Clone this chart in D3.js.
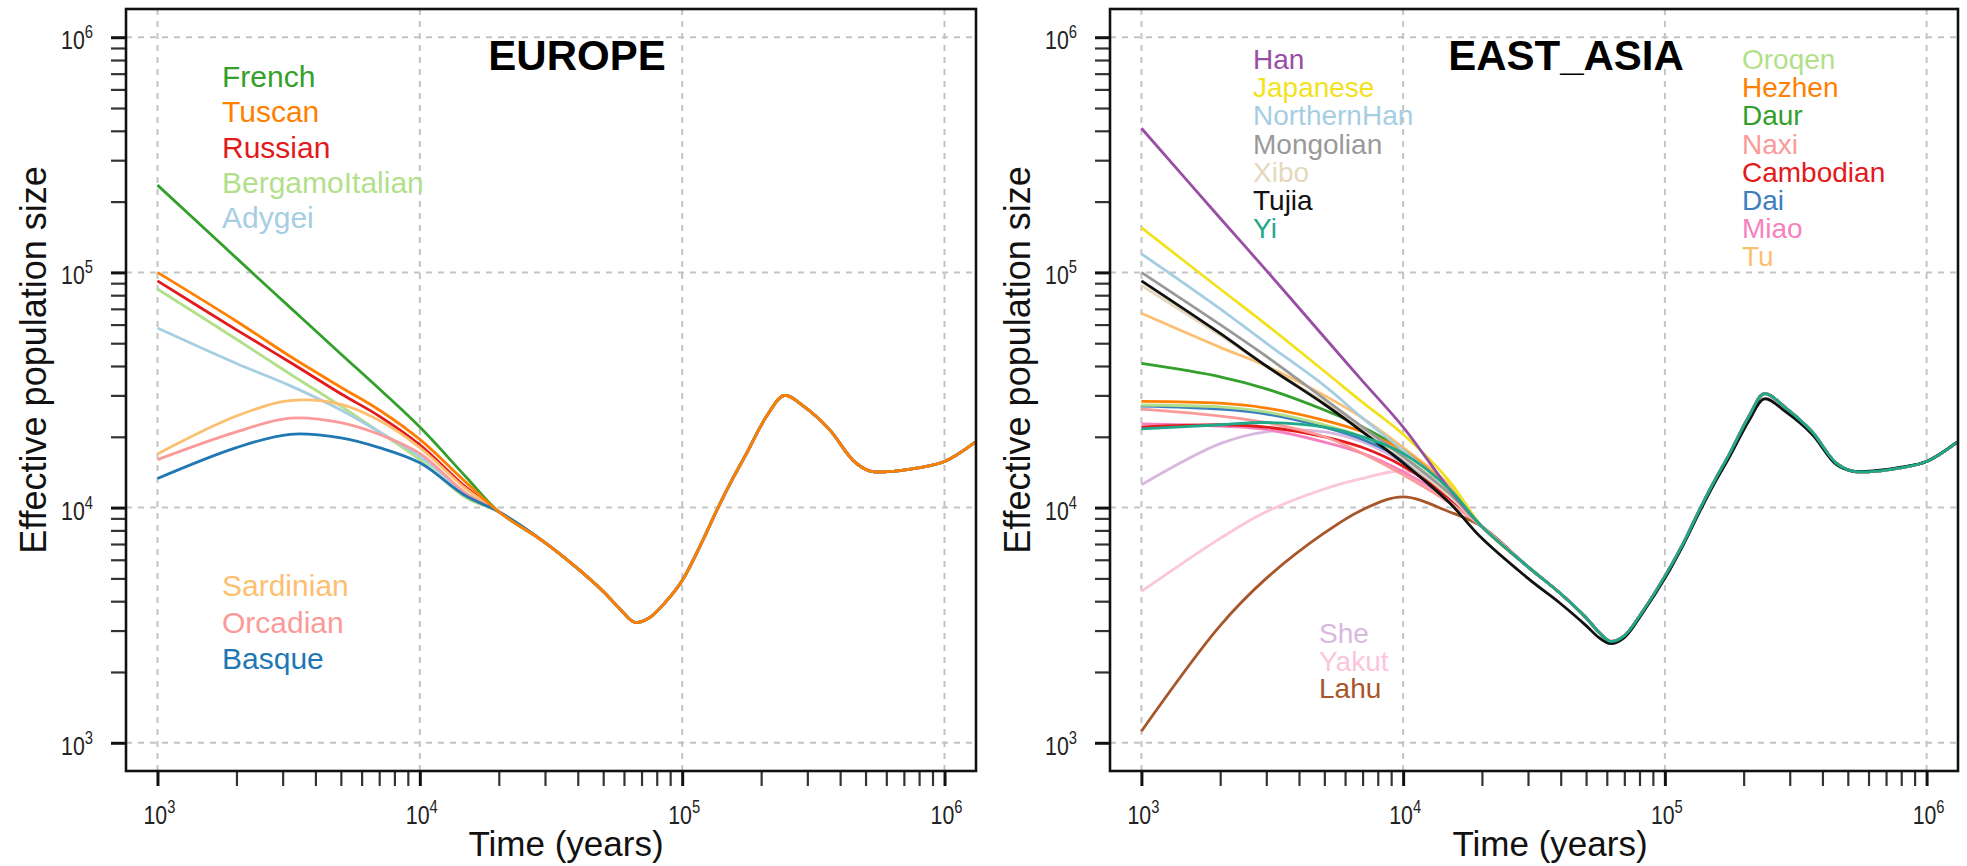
<!DOCTYPE html>
<html>
<head>
<meta charset="utf-8">
<script src="https://cdn.jsdelivr.net/npm/d3@7"></script>
<style>
  body { margin: 0; background: #fff; }
  svg { display: block; }
  text { font-family: "Liberation Sans", Arial, Helvetica, sans-serif; }
</style>
</head>
<body>
<script>
// ---- data: effective population size ----
const euTimes = [1000, 2000, 3200, 5000, 7000, 10000, 15000];
const euTailTimes = [20000, 30000, 40000, 50000, 58000, 66000, 75000, 87000, 100000, 118000, 137000, 156000, 176000, 210000, 245000, 290000, 365000, 450000, 520000, 650000, 780000, 1000000, 1310000];
const euTail = [9600, 7100, 5500, 4400, 3700, 3250, 3400, 4000, 4900, 7000, 10000, 13300, 17000, 24500, 30000, 27000, 21400, 15800, 14300, 14300, 14700, 15700, 19000];

const french = [235000, 115000, 71000, 45000, 32000, 22000, 13500];
const tuscan = [100000, 62000, 44000, 32500, 26000, 19500, 12800];
const russian = [92000, 57000, 41500, 30500, 24500, 18500, 12200];
const bergamo = [85000, 52000, 37000, 27000, 21000, 16000, 11000];
const adygei = [58000, 41000, 33000, 26000, 21000, 16500, 11500];
const sardinian = [16900, 24500, 28500, 27500, 23500, 18000, 12000];
const orcadian = [16000, 21000, 24000, 23000, 20500, 17000, 11500];
const basque = [13300, 18000, 20500, 19800, 18000, 15500, 11200];

const euNames = ["French", "Russian", "BergamoItalian", "Adygei", "Sardinian", "Orcadian", "Basque", "Tuscan"];
const euColors = ["#33a02c", "#e31a1c", "#b2df8a", "#a6cee3", "#fdbf6f", "#fb9a99", "#1f78b4", "#ff7f00"];
const euValues = [french, russian, bergamo, adygei, sardinian, orcadian, basque, tuscan];

const eaTimes = [1000, 2000, 3000, 5000, 7000, 10000, 15000];
const eaTailTimes = [20000, 30000, 40000, 50000, 56000, 62000, 70000, 82000, 100000, 118000, 137000, 156000, 176000, 210000, 240000, 290000, 365000, 450000, 520000, 650000, 780000, 1000000, 1310000];
const eaTail = [8300, 5600, 4300, 3400, 2950, 2700, 2850, 3600, 5100, 7100, 10000, 13200, 16800, 24500, 30500, 26500, 21000, 15500, 14300, 14300, 14700, 15700, 19000];
const tujiaTail = [7400, 5000, 3900, 3150, 2800, 2640, 2800, 3550, 5000, 7000, 9800, 12900, 16300, 23500, 29000, 25500, 20500, 15300, 14300, 14400, 14800, 15700, 19000];

const han = [410000, 170000, 102000, 53000, 34500, 22000, 12000];
const japanese = [155000, 85000, 60000, 38000, 28000, 20500, 13000];
const northernHan = [120000, 70000, 50000, 33000, 24000, 17500, 12000];
const mongolian = [100000, 60000, 44000, 29000, 22000, 16500, 11500];
const xibo = [88000, 54000, 40000, 28000, 21500, 16200, 11200];
const tujia = [92000, 55000, 40000, 27500, 21000, 15500, 10500];
const yi = [21600, 22500, 23000, 22000, 20000, 17000, 12000];
const oroqen = [27300, 26800, 25500, 22500, 20000, 16500, 11500];
const hezhen = [28300, 27800, 26500, 23500, 21000, 17500, 12000];
const daur = [41000, 36000, 32000, 26000, 22000, 17500, 12000];
const naxi = [26200, 24500, 23000, 20000, 17000, 13800, 10500];
const cambodian = [22000, 22500, 22000, 20000, 18000, 15000, 11000];
const dai = [27000, 26200, 25000, 22000, 19500, 16000, 11200];
const miao = [22700, 22200, 21500, 19000, 17000, 14200, 10800];
const tu = [67000, 48000, 40000, 30000, 24000, 18000, 12500];
const she = [12500, 18700, 21000, 21000, 19000, 15500, 11200];
const yakut = [4400, 7400, 9600, 12000, 13300, 14300, 12500];
const lahu = [1120, 3150, 5000, 7800, 9800, 11100, 9600];

const eaNames = ["Lahu", "Yakut", "She", "Tu", "Miao", "Dai", "Cambodian", "Naxi", "Daur", "Hezhen", "Oroqen",
  "Xibo", "Mongolian", "NorthernHan", "Japanese", "Han", "Tujia", "Yi"];
const eaColors = ["#a65628", "#fbc5dc", "#d9b8e0", "#fdbf6f", "#f781bf", "#3b7fc0", "#e31a1c", "#fb9a99", "#33a02c", "#ff7f00", "#b2df8a",
  "#e5d8bd", "#999999", "#a6cee3", "#f2e21e", "#984ea3", "#111111", "#1fa98a"];
const eaValues = [lahu, yakut, she, tu, miao, dai, cambodian, naxi, daur, hezhen, oroqen,
  xibo, mongolian, northernHan, japanese, han, tujia, yi];

// legend columns
const euLegendTop = ["French", "Tuscan", "Russian", "BergamoItalian", "Adygei"];
const euLegendBottom = ["Sardinian", "Orcadian", "Basque"];
const eaLegendLeft = ["Han", "Japanese", "NorthernHan", "Mongolian", "Xibo", "Tujia", "Yi"];
const eaLegendRight = ["Oroqen", "Hezhen", "Daur", "Naxi", "Cambodian", "Dai", "Miao", "Tu"];
const eaLegendBottom = ["She", "Yakut", "Lahu"];

const decades = [1e3, 1e4, 1e5, 1e6];

// ---- chart ----
const W = 1967, H = 866;
const plotTop = 9, plotBottom = 771;
const svg = d3.select("body").append("svg").attr("width", W).attr("height", H);

const minorTicks = [];
[1e3, 1e4, 1e5].forEach(b => { for (let k = 1; k <= 9; k++) minorTicks.push(b * k); });
minorTicks.push(1e6);

function drawPanel(p) {
  const x = d3.scaleLog().domain([10 ** 2.88, 10 ** 6.12]).range([p.x0, p.x1]);
  const y = d3.scaleLog().domain([10 ** 2.88, 10 ** 6.12]).range([plotBottom, plotTop]);
  const g = svg.append("g");

  // grid
  g.selectAll(".gx").data(decades).join("line")
    .attr("x1", d => x(d)).attr("x2", d => x(d)).attr("y1", plotTop).attr("y2", plotBottom)
    .attr("stroke", "#c4c4c4").attr("stroke-width", 2).attr("stroke-dasharray", "6,6");
  g.selectAll(".gy").data(decades).join("line")
    .attr("x1", p.x0).attr("x2", p.x1).attr("y1", d => y(d)).attr("y2", d => y(d))
    .attr("stroke", "#c4c4c4").attr("stroke-width", 2).attr("stroke-dasharray", "6,6");

  // curves
  const clipId = "clip" + p.key;
  svg.append("clipPath").attr("id", clipId).append("rect")
    .attr("x", p.x0).attr("y", plotTop).attr("width", p.x1 - p.x0).attr("height", plotBottom - plotTop);
  const line = d3.line().x(d => x(d[0])).y(d => y(d[1])).curve(d3.curveCatmullRom.alpha(0.5));
  const lg = g.append("g").attr("clip-path", `url(#${clipId})`);
  p.names.forEach((name, i) => {
    const tail = p.tails[name] || p.tail;
    const pts = p.times.map((t, j) => [t, p.values[i][j]])
      .concat(p.tailTimes.map((t, j) => [t, tail[j]]));
    lg.append("path").datum(pts).attr("d", line)
      .attr("fill", "none").attr("stroke", p.colors[i]).attr("stroke-width", 2.8)
      .attr("stroke-linejoin", "round");
  });

  // axes
  const ax = g.append("g").attr("transform", `translate(0,${plotBottom})`)
    .call(d3.axisBottom(x).tickValues(minorTicks).tickSize(15).tickSizeOuter(0).tickFormat(""));
  const ay = g.append("g").attr("transform", `translate(${p.x0},0)`)
    .call(d3.axisLeft(y).tickValues(minorTicks).tickSize(15).tickSizeOuter(0).tickFormat(""));
  [ax, ay].forEach(a => {
    a.select(".domain").remove();
    a.selectAll(".tick line")
      .attr("stroke", d => decades.includes(d) ? "#111" : "#333")
      .attr("stroke-width", d => decades.includes(d) ? 3 : 2.2);
  });

  // frame
  g.append("rect").attr("x", p.x0).attr("y", plotTop).attr("width", p.x1 - p.x0).attr("height", plotBottom - plotTop)
    .attr("fill", "none").attr("stroke", "#111").attr("stroke-width", 2.6);

  // tick labels 10^k
  decades.forEach(d => {
    const e = Math.round(Math.log10(d));
    const tx = g.append("text").attr("transform", `translate(${x(d) + 2},824) scale(0.82,1)`)
      .attr("text-anchor", "middle").attr("font-size", 26).attr("fill", "#222");
    tx.append("tspan").text("10");
    tx.append("tspan").attr("dy", -11).attr("font-size", 18).text(e);
    const ty = g.append("text").attr("transform", `translate(${p.x0 - 33},${y(d) + 12}) scale(0.82,1)`)
      .attr("text-anchor", "end").attr("font-size", 26).attr("fill", "#222");
    ty.append("tspan").text("10");
    ty.append("tspan").attr("dy", -11).attr("font-size", 18).text(e);
  });

  // axis titles
  g.append("text").attr("x", p.xTitle).attr("y", 856).attr("text-anchor", "middle")
    .attr("font-size", 35).attr("fill", "#111").text("Time (years)");
  g.append("text").attr("transform", `translate(${p.yTitle},360) rotate(-90)`)
    .attr("text-anchor", "middle").attr("font-size", 36).attr("fill", "#111")
    .text("Effective population size");

  // panel title
  g.append("text").attr("x", p.titleX).attr("y", 70).attr("text-anchor", "middle")
    .attr("font-size", 42).attr("font-weight", "bold").attr("fill", "#000").text(p.title);

  // legends
  p.legends.forEach(L => {
    g.selectAll(null).data(L.names).join("text")
      .attr("x", L.x).attr("y", (d, i) => L.y + i * L.step)
      .attr("font-size", L.size)
      .attr("fill", d => p.colors[p.names.indexOf(d)])
      .text(d => d);
  });
}

drawPanel({
  key: "eu", title: "EUROPE", x0: 126, x1: 976, titleX: 577, xTitle: 566, yTitle: 46,
  names: euNames, colors: euColors, values: euValues, times: euTimes,
  tailTimes: euTailTimes, tail: euTail, tails: {},
  legends: [
    { names: euLegendTop, x: 222, y: 87, step: 35.3, size: 30 },
    { names: euLegendBottom, x: 222, y: 596, step: 36.5, size: 30 }
  ]
});

drawPanel({
  key: "ea", title: "EAST_ASIA", x0: 1110, x1: 1958, titleX: 1566, xTitle: 1550, yTitle: 1030,
  names: eaNames, colors: eaColors, values: eaValues, times: eaTimes,
  tailTimes: eaTailTimes, tail: eaTail, tails: { Tujia: tujiaTail },
  legends: [
    { names: eaLegendLeft, x: 1253, y: 69, step: 28.2, size: 28 },
    { names: eaLegendRight, x: 1742, y: 69, step: 28.2, size: 28 },
    { names: eaLegendBottom, x: 1319, y: 643, step: 27.5, size: 28 }
  ]
});
</script>
</body>
</html>
